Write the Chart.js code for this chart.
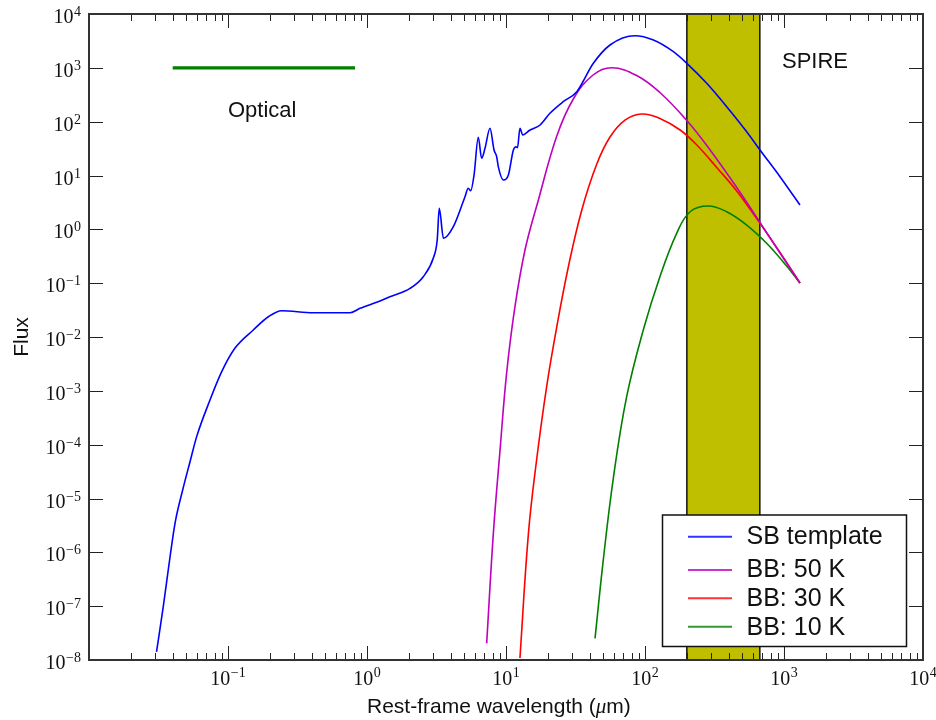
<!DOCTYPE html>
<html><head><meta charset="utf-8">
<script src="https://cdn.jsdelivr.net/npm/chart.js@4/dist/chart.umd.min.js"></script>
<style>html,body{margin:0;padding:0;background:#fff;}#wrap{width:936px;height:720px;}</style>
</head><body><div id="wrap"><canvas id="c" width="936" height="720"></canvas></div>
<script>
// ---- data ----
const sbWave = [0.0306,0.0342,0.0383,0.0416,0.0472,0.0533,0.0595,0.0742,0.0901,0.112,0.152,0.195,0.243,0.411,0.755,0.891,1.24,1.46,2.04,2.54,3.00,3.20,3.31,3.55,4.18,5.07,5.35,5.57,5.89,6.32,6.68,7.06,7.67,8.20,8.57,8.80,9.57,10.4,11.3,11.8,12.1,12.6,13.2,14.9,17.6,20.7,25.8,32.3,42.5,56.0,84.7,115,160,200,278,387,539,672,936,1303];
const sbFlux = [1.41e-8,9.75e-8,8.28e-7,3.5e-6,1.44e-5,4.82e-5,1.41e-4,6.75e-4,2.27e-3,6.17e-3,0.0135,0.0238,0.0308,0.0283,0.0283,0.0341,0.0466,0.056,0.080,0.132,0.293,0.634,2.46,0.681,1.12,4.04,5.78,5.21,10.2,51.2,20.9,32.0,75.3,29.8,22.3,14.6,8.25,10.2,29.8,34.3,33,75.3,56.5,70,86.7,143,235,360,1213,2655,3954,3289,1995,1213,516,190,65.1,29.8,9.5,2.83];
const bb50Wave = [7.26,8.11,9.06,10.1,11.6,13.7,17.1,23.2,30.5,42.3,57.6,87.1,128,200,294,457,672,936,1303];
const bb50Flux = [2.04e-8,2.25e-6,7.94e-5,2.11e-3,0.0365,0.413,3.51,54.2,264,736,1005,720,348,105,29.8,5.98,1.34,0.363,0.1007];
const bb30Wave = [12.6,14.5,16.6,19.6,23.2,28.1,35.1,45.0,56.0,71.8,94.6,128,179,236,328,457,672,936,1303];
const bb30Flux = [1.09e-8,2.25e-6,5.19e-5,1.19e-3,0.0155,0.202,2.29,16.3,51.9,107,139,115,70.0,36.8,14.1,5.15,1.29,0.371,0.1007];
const bb10Wave = [43.7,50.1,59.2,73.8,97.2,128,169,211,285,387,539,750,1045,1303];
const bb10Flux = [2.52e-8,7.19e-7,2.40e-5,7.78e-4,0.0135,0.132,0.843,2.12,2.71,2.12,1.20,0.550,0.208,0.1007];
const spireBand = [200, 670];
const opticalRange = [0.04, 0.82];
const opticalLevel = 1000;
const seriesLabels = ['SB template','BB: 50 K','BB: 30 K','BB: 10 K'];
const xTickExps = [-1,0,1,2,3,4];
const yTickExps = [4,3,2,1,0,-1,-2,-3,-4,-5,-6,-7,-8];
const xLimits = [1e-2, 1e4];
const yLimits = [1e-8, 1e4];

const colors = ['#0000ff','#bf00bf','#ff0000','#008000'];
const pts = (xs, ys) => xs.map((v,i)=>({x:v,y:ys[i]}));

const curve = (label, xs, ys, color, smooth) => {
  const d = {
    label, data: pts(xs, ys), borderColor: color, backgroundColor: color,
    borderWidth: 1.6, pointRadius: 0, showLine: true, fill: false, order: 1
  };
  if (smooth) d.tension = 0.4; else d.cubicInterpolationMode = 'monotone';
  return d;
};

const datasets = [
  curve(seriesLabels[0], sbWave, sbFlux, colors[0], false),
  curve(seriesLabels[1], bb50Wave, bb50Flux, colors[1], true),
  curve(seriesLabels[2], bb30Wave, bb30Flux, colors[2], true),
  curve(seriesLabels[3], bb10Wave, bb10Flux, colors[3], true),
  { label:'Optical', data: pts(opticalRange, [opticalLevel, opticalLevel]), borderColor:'#008000',
    borderWidth: 3.2, pointRadius:0, showLine:true, fill:false, order: 2 },
  { label:'SPIRE', data: pts([spireBand[0],spireBand[0],spireBand[1],spireBand[1]],[yLimits[0],yLimits[1],yLimits[1],yLimits[0]]),
    borderColor:'#111', borderWidth:1.5, backgroundColor:'#bfbf00', pointRadius:0, showLine:true,
    fill:'start', tension:0, order: 10 }
];

function drawPow(ctx, exp, x, baseline, align, baseSize, expSize, raise) {
  const base = '10';
  const es = exp < 0 ? '\u2212' + Math.abs(exp) : String(exp);
  ctx.font = baseSize + 'px "Liberation Serif", serif';
  const wb = ctx.measureText(base).width;
  ctx.font = expSize + 'px "Liberation Serif", serif';
  const we = ctx.measureText(es).width;
  const total = wb + we + 0.5;
  let sx = align === 'right' ? x - total : x - total/2;
  ctx.textAlign = 'left'; ctx.textBaseline = 'alphabetic';
  ctx.font = baseSize + 'px "Liberation Serif", serif';
  ctx.fillText(base, sx, baseline);
  ctx.font = expSize + 'px "Liberation Serif", serif';
  ctx.fillText(es, sx + wb + 0.5, baseline - raise);
}

const deco = {
  id: 'deco',
  afterDatasetsDraw(chart) {
    const {ctx, chartArea: a, scales: {x, y}} = chart;
    ctx.save();
    // ticks
    ctx.strokeStyle = '#222'; ctx.lineWidth = 1;
    ctx.beginPath();
    for (let e = -2; e < 4; e++) {
      for (let m = 1; m < 10; m++) {
        const v = m * Math.pow(10, e);
        const px = Math.round(x.getPixelForValue(v)) + 0.5;
        const L = m === 1 ? 14 : 7;
        ctx.moveTo(px, a.bottom); ctx.lineTo(px, a.bottom - L);
        ctx.moveTo(px, a.top); ctx.lineTo(px, a.top + L);
      }
    }
    yTickExps.forEach(e => {
      const py = Math.round(y.getPixelForValue(Math.pow(10, e))) + 0.5;
      ctx.moveTo(a.left, py); ctx.lineTo(a.left + 14, py);
      ctx.moveTo(a.right, py); ctx.lineTo(a.right - 14, py);
    });
    ctx.stroke();
    // frame
    ctx.strokeStyle = '#333'; ctx.lineWidth = 2;
    ctx.strokeRect(a.left, a.top, a.right - a.left, a.bottom - a.top);

    // tick labels
    ctx.fillStyle = '#111';
    xTickExps.forEach(e => {
      const px = x.getPixelForValue(Math.pow(10, e));
      drawPow(ctx, e, px, 684.5, 'center', 20, 14, 7.5);
    });
    yTickExps.forEach(e => {
      const py = y.getPixelForValue(Math.pow(10, e));
      drawPow(ctx, e, 81, py + 9, 'right', 20, 14, 7);
    });

    // axis titles
    ctx.fillStyle = '#111';
    ctx.textBaseline = 'alphabetic'; ctx.textAlign = 'left';
    const sans = '21px "Liberation Sans", Arial, sans-serif';
    ctx.font = sans;
    const p1 = 'Rest-frame wavelength (';
    let cx = 367;
    ctx.fillText(p1, cx, 712.5); cx += ctx.measureText(p1).width;
    ctx.font = 'italic 21px "Liberation Serif", serif';
    ctx.fillText('\u03bc', cx, 712.5); cx += ctx.measureText('\u03bc').width;
    ctx.font = sans;
    ctx.fillText('m)', cx, 712.5);

    ctx.save();
    ctx.translate(22, 337); ctx.rotate(-Math.PI/2);
    ctx.textAlign = 'center'; ctx.textBaseline = 'middle';
    ctx.font = sans;
    ctx.fillText('Flux', 0, 0);
    ctx.restore();

    // annotations
    ctx.font = '22px "Liberation Sans", Arial, sans-serif';
    ctx.textAlign = 'left'; ctx.textBaseline = 'alphabetic';
    ctx.fillText('Optical', 228, 116.5);
    ctx.fillText('SPIRE', 782, 68.3);

    // legend
    const L = {l: 662.5, t: 515, r: 906.5, b: 646.5};
    ctx.fillStyle = '#fff';
    ctx.fillRect(L.l, L.t, L.r - L.l, L.b - L.t);
    ctx.strokeStyle = '#111'; ctx.lineWidth = 1.5;
    ctx.strokeRect(L.l, L.t, L.r - L.l, L.b - L.t);
    const rows = [536.7, 570, 598.3, 626.7];
    const bases = [544, 577.3, 606, 635];
    ctx.font = '25px "Liberation Sans", Arial, sans-serif';
    seriesLabels.forEach((lab, i) => {
      ctx.strokeStyle = colors[i]; ctx.globalAlpha = 0.8; ctx.lineWidth = 2;
      ctx.beginPath(); ctx.moveTo(688, rows[i]); ctx.lineTo(732, rows[i]); ctx.stroke();
      ctx.globalAlpha = 1;
      ctx.fillStyle = '#111';
      ctx.fillText(lab, 746.5, bases[i]);
    });
    ctx.restore();
  }
};

new Chart(document.getElementById('c'), {
  type: 'scatter',
  data: { datasets },
  options: {
    responsive: false, animation: false,
    layout: { padding: { left: 89, top: 14, right: 13, bottom: 60 } },
    plugins: { legend: { display: false }, tooltip: { enabled: false } },
    scales: {
      x: { type: 'logarithmic', min: xLimits[0], max: xLimits[1], display: false },
      y: { type: 'logarithmic', min: yLimits[0], max: yLimits[1], display: false }
    }
  },
  plugins: [deco]
});
</script>
</body></html>
